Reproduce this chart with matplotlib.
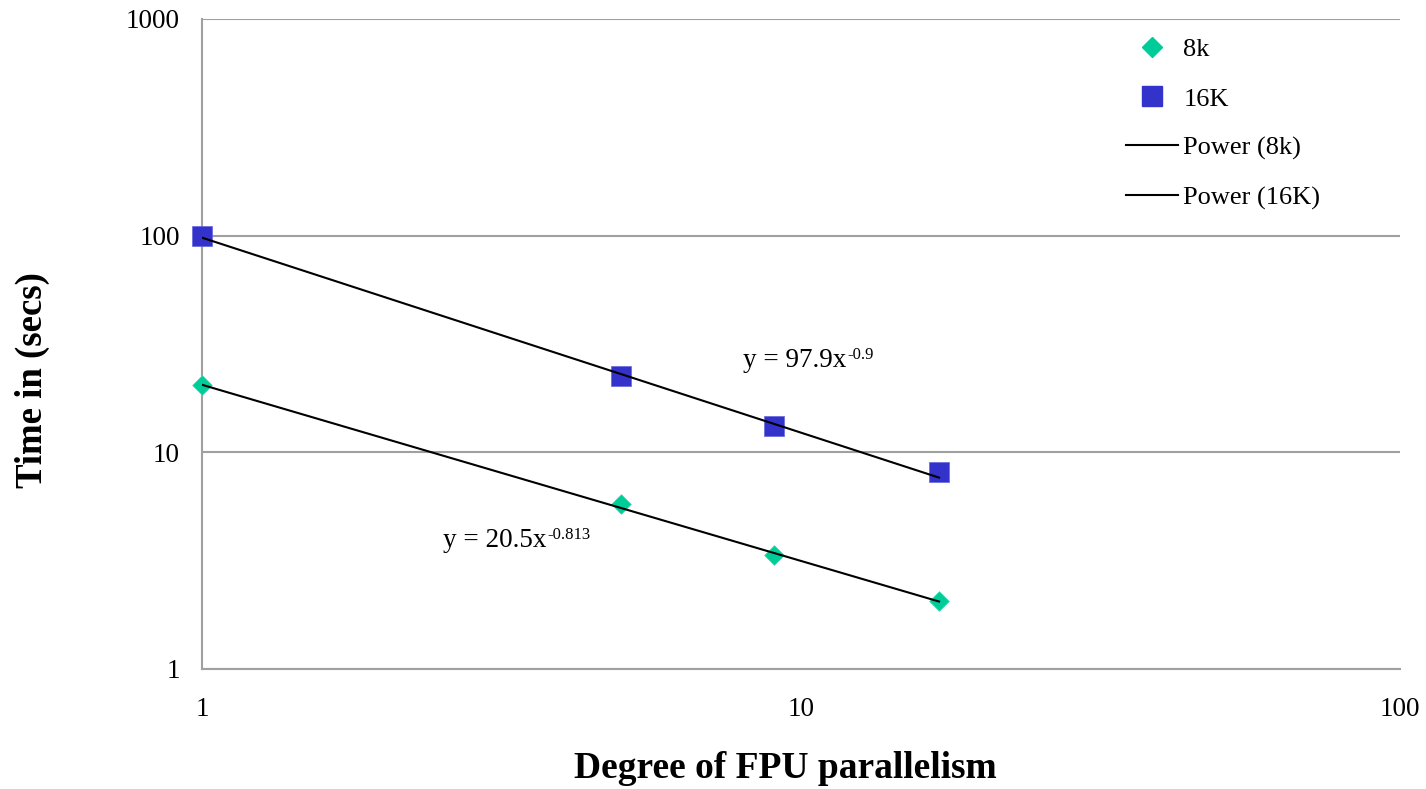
import matplotlib
matplotlib.use("Agg")
import matplotlib.pyplot as plt
import numpy as np
from matplotlib.lines import Line2D

plt.rcParams['font.family'] = ['Liberation Serif', 'DejaVu Serif']

# Data
parallelism = [1, 5, 9, 17]
time_8k = [20.4, 5.75, 3.35, 2.06]
time_16k = [100, 22.4, 13.2, 8.1]
fit_8k = (20.5, -0.813)   # y = a * x^b
fit_16k = (97.9, -0.9)
x_ticks = [1, 10, 100]
x_ticklabels = ['1', '10', '100']
y_ticks = [1, 10, 100, 1000]
y_ticklabels = ['1', '10', '100', '1000']
legend_labels = ['8k', '16K', 'Power (8k)', 'Power (16K)']

fig = plt.figure(figsize=(14.26, 7.89), dpi=100)
ax = fig.add_axes([202/1426, 1-669/789, (1400-202)/1426, (669-19)/789])
ax.set_xscale('log')
ax.set_yscale('log')
ax.set_xlim(1, 100)
ax.set_ylim(1, 1000)

grid_c = '#a0a0a0'
for yv in y_ticks:
    ax.axhline(yv, color=grid_c, lw=1.5, zorder=1)
for s in ['top', 'right']:
    ax.spines[s].set_visible(False)
for s in ['left', 'bottom']:
    ax.spines[s].set_color(grid_c)
    ax.spines[s].set_linewidth(1.5)

green = '#00CC99'
blue = '#3333CC'

# Trend lines
xfit = np.logspace(np.log10(parallelism[0]), np.log10(parallelism[-1]), 50)
ax.plot(xfit, fit_8k[0] * xfit ** fit_8k[1], color='black', lw=1.5, zorder=4)
ax.plot(xfit, fit_16k[0] * xfit ** fit_16k[1], color='black', lw=1.5, zorder=4)

ax.scatter(parallelism, time_8k, marker='D', s=100, color=green, edgecolors='#33dda8',
           linewidths=0.5, zorder=3, clip_on=False)
ax.scatter(parallelism, time_16k, marker='s', s=228, color=blue, edgecolors='#6666dd',
           linewidths=0.5, zorder=3, clip_on=False)

ax.set_xticks(x_ticks)
ax.set_xticklabels(x_ticklabels)
ax.set_yticks(y_ticks)
ax.set_yticklabels(y_ticklabels)
ax.minorticks_off()
ax.tick_params(axis='both', length=0, labelsize=19.5)
ax.tick_params(axis='x', pad=20)
ax.tick_params(axis='y', pad=16)

ax.set_xlabel('Degree of FPU parallelism', fontsize=27, fontweight='bold')
ax.xaxis.set_label_coords((785-202)/1198, (669-751)/650)
ax.set_ylabel('Time in (secs)', fontsize=26.5, fontweight='bold')
ax.yaxis.set_label_coords((50-202)/1198, (669-380)/650)


def eq_label(x, y, base, sup):
    t = ax.text(x, y, base, fontsize=19.5, ha='left', va='baseline', zorder=5)
    ax.annotate(sup, xy=(1, 0), xycoords=t, xytext=(0.5, 7), textcoords='offset points',
                fontsize=12, ha='left', va='bottom', zorder=5)


eq_label(8.0, 24.8, 'y = 97.9x', '-0.9')
eq_label(2.525, 3.656, 'y = 20.5x', '-0.813')

handles = [
    Line2D([], [], marker='D', color=green, linestyle='None', markersize=10),
    Line2D([], [], marker='s', color=blue, linestyle='None', markersize=13.7),
    Line2D([], [], color='black', lw=1.5),
    Line2D([], [], color='black', lw=1.5),
]
leg = fig.legend(handles, legend_labels, loc='upper left',
                 bbox_to_anchor=(1126/1426, 1-38/789), bbox_transform=fig.transFigure,
                 frameon=False, fontsize=19, handlelength=1.97, handletextpad=0.2,
                 labelspacing=0.97, borderaxespad=0, borderpad=0)

fig.savefig('out.png', dpi=100)
